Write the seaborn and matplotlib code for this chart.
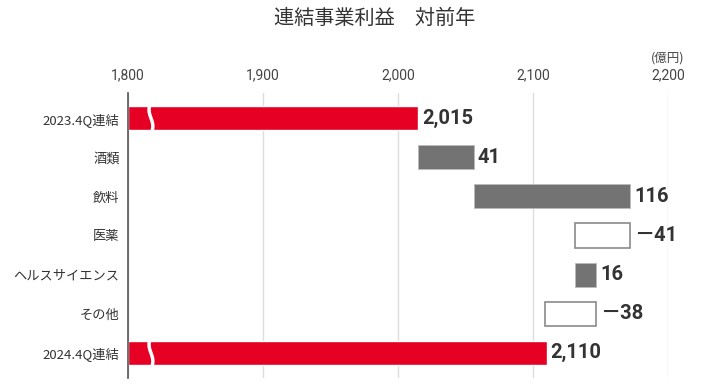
import numpy as np
import matplotlib.pyplot as plt
import seaborn as sns

# データ（億円）
categories = ["2023.4Q連結", "酒類", "飲料", "医薬", "ヘルスサイエンス", "その他", "2024.4Q連結"]
changes = [2015, 41, 116, -41, 16, -38, 2110]
kinds = ["total", "delta", "delta", "delta", "delta", "delta", "total"]
value_labels = ["2,015", "41", "116", "－41", "16", "－38", "2,110"]
xticks = [1800, 1900, 2000, 2100, 2200]
xtick_labels = ["1,800", "1,900", "2,000", "2,100", "2,200"]

RED = "#e60023"
GRAY = "#737373"
JP = ["Noto Sans CJK JP", "DejaVu Sans"]
NUM = ["Roboto", "Noto Sans CJK JP", "DejaVu Sans"]

sns.set_style("white")
plt.rcParams["font.family"] = JP

# 積み上げ位置の計算
base = 1800
lefts, widths = [], []
running = 0
for v, k in zip(changes, kinds):
    if k == "total":
        lefts.append(base)
        widths.append(v - base)
        running = v
    else:
        lefts.append(running if v >= 0 else running + v)
        widths.append(abs(v))
        running += v

fig = plt.figure(figsize=(7.2, 3.88), dpi=100)
ax = fig.add_axes([128 / 720, 10 / 388, 540 / 720, 285 / 388])

y = np.arange(len(categories))
for i, (l, w, v, k) in enumerate(zip(lefts, widths, changes, kinds)):
    if k == "total":
        ax.barh(i, w, left=l, height=0.62, color=RED, zorder=3)
    elif v >= 0:
        ax.barh(i, w, left=l, height=0.62, color=GRAY, edgecolor="#bbbbbb", lw=0.6, zorder=3)
    else:
        ax.barh(i, w, left=l, height=0.62, color="white", edgecolor="#8a8a8a", lw=1.2, zorder=3)
    ax.text(l + w + 3, i, value_labels[i], va="center", ha="left",
            fontsize=14.5, fontweight="bold", color="#333333", family=NUM)

# 省略マーク（波線）
t = np.linspace(-0.42, 0.42, 50)
for i, k in enumerate(kinds):
    if k == "total":
        xs = 1817 + 1.4 * np.sin(t / 0.42 * np.pi)
        ax.plot(xs, i + t, color="white", lw=2.5, zorder=4, solid_capstyle="butt")

ax.set_xlim(1800, 2200)
ax.set_ylim(6.64, -0.64)
ax.set_yticks(y)
ax.set_yticklabels(categories, fontsize=9.5, color="#333333")
ax.xaxis.tick_top()
ax.set_xticks(xticks)
ax.set_xticklabels(xtick_labels, fontsize=10, color="#444444", family=NUM)
ax.tick_params(axis="both", length=0)
ax.tick_params(axis="x", pad=8)
ax.tick_params(axis="y", pad=6)
ax.grid(axis="x", color="#dddddd", lw=1, zorder=0)
for s in ["top", "right", "bottom"]:
    ax.spines[s].set_visible(False)
ax.spines["left"].set_color("#555555")
ax.spines["left"].set_linewidth(1.2)
ax.spines["left"].set_zorder(5)

fig.text(668 / 720, 1 - 58 / 388, "(億円)", ha="center", va="center", fontsize=9, color="#444444")
fig.text(375 / 720, 1 - 18 / 388, "連結事業利益　対前年", ha="center", va="center", fontsize=14.5, color="#333333")

fig.savefig("out.png", dpi=100)
